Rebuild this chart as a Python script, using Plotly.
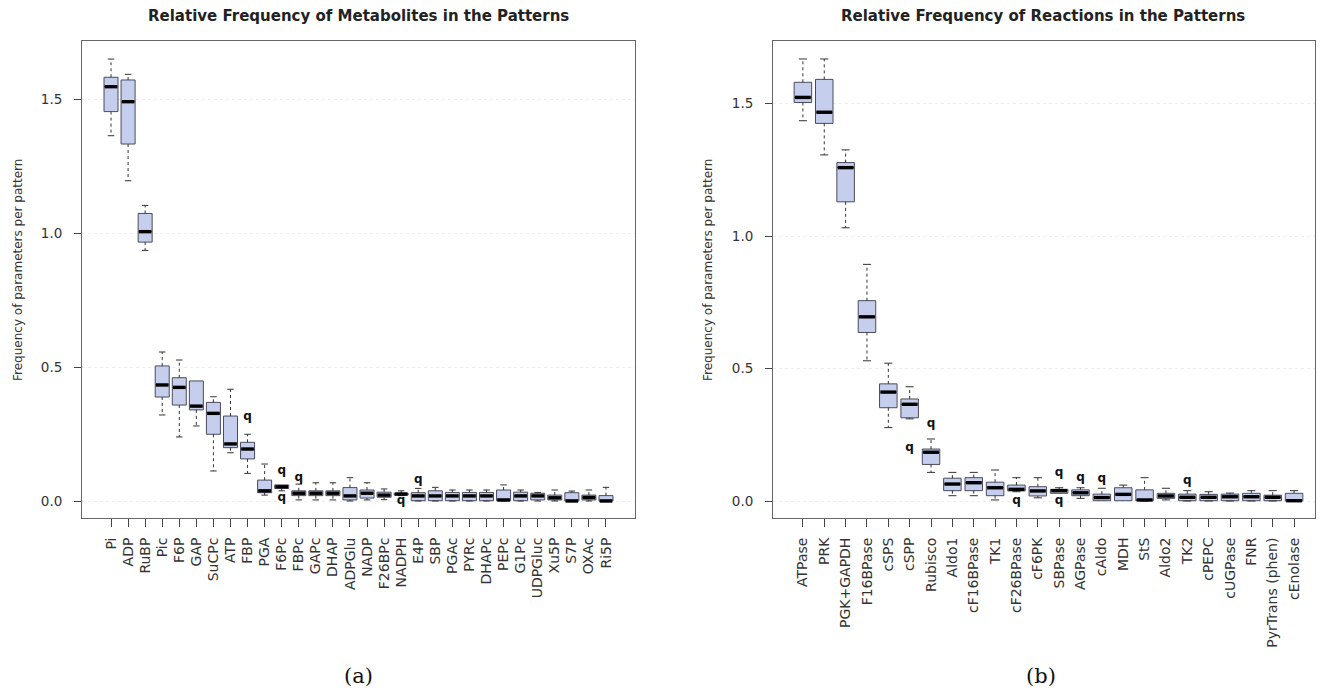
import plotly.graph_objects as go

# ---------------- data: metabolites (panel a) ----------------
met_names = ["Pi", "ADP", "RuBP", "Pic", "F6P", "GAP", "SuCPc", "ATP", "FBP", "PGA",
             "F6Pc", "FBPc", "GAPc", "DHAP", "ADPGlu", "NADP", "F26BPc", "NADPH", "E4P", "SBP",
             "PGAc", "PYRc", "DHAPc", "PEPc", "G1Pc", "UDPGluc", "Xu5P", "S7P", "OXAc", "Ri5P"]
met_lower = [1.363, 1.195, 0.935, 0.321, 0.239, 0.280, 0.112, 0.180, 0.103, 0.022,
             0.038, 0.004, 0.004, 0.004, 0.000, 0.004, 0.005, 0.020, 0.000, 0.000,
             0.000, 0.000, 0.000, 0.000, 0.000, 0.000, 0.000, 0.000, 0.000, 0.000]
met_q1 = [1.453, 1.332, 0.966, 0.388, 0.358, 0.340, 0.249, 0.199, 0.157, 0.031,
          0.047, 0.020, 0.020, 0.020, 0.004, 0.011, 0.014, 0.022, 0.001, 0.001,
          0.001, 0.001, 0.001, 0.001, 0.001, 0.004, 0.004, 0.000, 0.004, 0.000]
met_med = [1.546, 1.490, 1.005, 0.433, 0.424, 0.354, 0.327, 0.213, 0.194, 0.038,
           0.053, 0.029, 0.029, 0.029, 0.019, 0.029, 0.022, 0.026, 0.019, 0.019,
           0.019, 0.019, 0.019, 0.004, 0.019, 0.019, 0.012, 0.000, 0.013, 0.000]
met_q3 = [1.581, 1.571, 1.073, 0.504, 0.460, 0.448, 0.368, 0.317, 0.219, 0.078,
          0.060, 0.038, 0.038, 0.038, 0.050, 0.041, 0.033, 0.029, 0.031, 0.038,
          0.032, 0.032, 0.032, 0.041, 0.033, 0.029, 0.022, 0.031, 0.022, 0.020]
met_upper = [1.649, 1.592, 1.103, 0.556, 0.526, 0.448, 0.389, 0.417, 0.249, 0.138,
             0.060, 0.063, 0.068, 0.068, 0.087, 0.068, 0.045, 0.038, 0.047, 0.051,
             0.041, 0.041, 0.041, 0.060, 0.041, 0.032, 0.041, 0.037, 0.041, 0.051]
met_out_names = ["FBP", "F6Pc", "F6Pc", "FBPc", "NADPH", "E4P"]
met_out_vals = [0.313, 0.113, 0.011, 0.086, 0.000, 0.078]

# ---------------- data: reactions (panel b) ----------------
rxn_names = ["ATPase", "PRK", "PGK+GAPDH", "F16BPase", "cSPS", "cSPP", "Rubisco", "Aldo1",
             "cF16BPase", "TK1", "cF26BPase", "cF6PK", "SBPase", "AGPase", "cAldo", "MDH",
             "StS", "Aldo2", "TK2", "cPEPC", "cUGPase", "FNR", "PyrTrans (phen)", "cEnolase"]
rxn_lower = [1.435, 1.306, 1.031, 0.529, 0.277, 0.310, 0.108, 0.020, 0.020, 0.004, 0.035, 0.012,
             0.029, 0.010, 0.001, 0.001, 0.000, 0.004, 0.000, 0.000, 0.000, 0.000, 0.000, 0.000]
rxn_q1 = [1.504, 1.425, 1.129, 0.636, 0.352, 0.314, 0.138, 0.039, 0.039, 0.020, 0.038, 0.019,
          0.029, 0.020, 0.001, 0.001, 0.001, 0.010, 0.001, 0.001, 0.001, 0.001, 0.001, 0.000]
rxn_med = [1.523, 1.467, 1.258, 0.695, 0.411, 0.365, 0.184, 0.064, 0.069, 0.050, 0.044, 0.038,
           0.039, 0.031, 0.013, 0.025, 0.004, 0.019, 0.014, 0.014, 0.016, 0.016, 0.014, 0.001]
rxn_q3 = [1.580, 1.591, 1.277, 0.756, 0.442, 0.385, 0.196, 0.086, 0.088, 0.071, 0.060, 0.054,
          0.044, 0.042, 0.026, 0.050, 0.042, 0.029, 0.026, 0.025, 0.026, 0.029, 0.022, 0.029]
rxn_upper = [1.668, 1.668, 1.325, 0.893, 0.520, 0.431, 0.234, 0.108, 0.108, 0.117, 0.088, 0.088,
             0.050, 0.050, 0.048, 0.060, 0.088, 0.048, 0.039, 0.035, 0.030, 0.039, 0.039, 0.039]
rxn_out_names = ["cSPP", "Rubisco", "cF26BPase", "SBPase", "SBPase", "AGPase", "cAldo", "TK2"]
rxn_out_vals = [0.199, 0.290, 0.000, 0.105, 0.000, 0.086, 0.083, 0.075]

# ---------------- styling ----------------
BOX_FILL = "rgb(197,207,237)"
BOX_LINE = "#4a4a5e"
WHISK = "#333333"
BOX_W = 0.82
CAP_W = 0.38
FONT = "DejaVu Sans"
TXT = "#333333"

PAGE_W, PAGE_H = 1324, 699
OFF = 8  # default body margin of the html page
W, H = PAGE_W - 2 * OFF, PAGE_H - 2 * OFF


def fx(px):
    return (px - OFF) / W


def fy(py):
    return 1 - (py - OFF) / H


fig = go.Figure()


def add_panel(names, lower, q1, med, q3, upper, out_names, out_vals, xa, ya):
    idx = list(range(len(names)))
    pos = {n: i for i, n in enumerate(names)}
    wx, wy = [], []
    cx, cy = [], []
    for i in idx:
        if upper[i] > q3[i]:
            wx += [i, i, None]
            wy += [q3[i], upper[i], None]
            cx += [i - CAP_W / 2, i + CAP_W / 2, None]
            cy += [upper[i], upper[i], None]
        if lower[i] < q1[i]:
            wx += [i, i, None]
            wy += [q1[i], lower[i], None]
            cx += [i - CAP_W / 2, i + CAP_W / 2, None]
            cy += [lower[i], lower[i], None]
    fig.add_trace(go.Scatter(x=wx, y=wy, mode="lines", xaxis=xa, yaxis=ya,
                             line=dict(color=WHISK, width=1, dash="3px,3px"),
                             hoverinfo="skip", showlegend=False))
    fig.add_trace(go.Scatter(x=cx, y=cy, mode="lines", xaxis=xa, yaxis=ya,
                             line=dict(color=WHISK, width=1),
                             hoverinfo="skip", showlegend=False))
    fig.add_trace(go.Box(x=idx, q1=q1, median=med, q3=q3, lowerfence=q1, upperfence=q3,
                         width=BOX_W, fillcolor=BOX_FILL,
                         line=dict(color=BOX_LINE, width=1), whiskerwidth=0,
                         boxpoints=False, xaxis=xa, yaxis=ya,
                         hoverinfo="skip", showlegend=False))
    mx, my = [], []
    for i in idx:
        mx += [i - BOX_W / 2 + 0.04, i + BOX_W / 2 - 0.04, None]
        my += [med[i], med[i], None]
    fig.add_trace(go.Scatter(x=mx, y=my, mode="lines", xaxis=xa, yaxis=ya,
                             line=dict(color="black", width=3.4),
                             hoverinfo="skip", showlegend=False))
    fig.add_trace(go.Scatter(x=[pos[n] for n in out_names], y=out_vals, mode="text",
                             text=["<b>q</b>"] * len(out_vals), xaxis=xa, yaxis=ya,
                             textfont=dict(family=FONT, size=12, color="#111111"),
                             textposition="middle center",
                             hoverinfo="skip", showlegend=False))


add_panel(met_names, met_lower, met_q1, met_med, met_q3, met_upper,
          met_out_names, met_out_vals, "x", "y")
add_panel(rxn_names, rxn_lower, rxn_q1, rxn_med, rxn_q3, rxn_upper,
          rxn_out_names, rxn_out_vals, "x2", "y2")

# panel geometry (page pixels)
L_X0, L_X1 = 82, 635
R_X0, R_X1 = 773, 1315
Y_TOP, Y_BOT = 41, 518

met_range = [-1.70, len(met_names) - 1 + 1.70]
rxn_range = [-1.40, len(rxn_names) - 1 + 0.98]

grid_col = "rgba(0,0,0,0.07)"


def xaxis_main(domain, names, rng, anchor):
    return dict(domain=domain, range=rng, anchor=anchor,
                tickmode="array", tickvals=list(range(len(names))), ticktext=names,
                tickangle=-90, ticks="outside", ticklen=8, tickcolor="#444444",
                ticklabelstandoff=5,
                tickfont=dict(family=FONT, size=14, color=TXT),
                showline=True, linecolor="#666666", linewidth=1, mirror=True,
                showgrid=False, zeroline=False, fixedrange=True)


def xaxis_grid(domain, rng, anchor, over):
    return dict(domain=domain, range=rng, anchor=anchor, overlaying=over,
                tickmode="array", tickvals=list(range(-1, int(rng[1]) + 1, 5)),
                showticklabels=False, ticks="", showgrid=True, gridcolor=grid_col,
                griddash="dot", gridwidth=1, showline=False, zeroline=False)


def yaxis_main(rng, anchor):
    return dict(domain=[fy(Y_BOT), fy(Y_TOP)], range=rng, anchor=anchor,
                tickmode="array", tickvals=[0, 0.5, 1.0, 1.5],
                ticktext=["0.0", "0.5", "1.0", "1.5"],
                ticks="outside", ticklen=7, tickcolor="#444444", ticklabelstandoff=9,
                tickfont=dict(family=FONT, size=13.5, color=TXT),
                showline=True, linecolor="#666666", linewidth=1, mirror=True,
                showgrid=True, gridcolor=grid_col, griddash="dot", zeroline=False,
                fixedrange=True)


fig.update_layout(
    width=W, height=H,
    margin=dict(l=0, r=0, t=0, b=0),
    paper_bgcolor="white", plot_bgcolor="white",
    showlegend=False,
    xaxis=xaxis_main([fx(L_X0), fx(L_X1)], met_names, met_range, "y"),
    yaxis=yaxis_main([(501 - Y_BOT) / 268, (501 - Y_TOP) / 268], "x"),
    xaxis2=xaxis_main([fx(R_X0), fx(R_X1)], rxn_names, rxn_range, "y2"),
    yaxis2=yaxis_main([(501 - Y_BOT) / 265, (501 - Y_TOP) / 265], "x2"),
    xaxis3=xaxis_grid([fx(L_X0), fx(L_X1)], met_range, "y", "x"),
    xaxis4=xaxis_grid([fx(R_X0), fx(R_X1)], rxn_range, "y2", "x2"),
)

annotations = [
    dict(text="<b>Relative Frequency of Metabolites in the Patterns</b>", x=fx(358), y=fy(16),
         font=dict(family=FONT, size=15, color="#222222")),
    dict(text="<b>Relative Frequency of Reactions in the Patterns</b>", x=fx(1043), y=fy(16),
         font=dict(family=FONT, size=15, color="#222222")),
    dict(text="Frequency of parameters per pattern", x=fx(18), y=fy(270), textangle=-90,
         font=dict(family=FONT, size=12, color=TXT)),
    dict(text="Frequency of parameters per pattern", x=fx(708), y=fy(270), textangle=-90,
         font=dict(family=FONT, size=12, color=TXT)),
    dict(text="(a)", x=fx(358), y=fy(676),
         font=dict(family="DejaVu Serif", size=21, color="#111111")),
    dict(text="(b)", x=fx(1041), y=fy(676),
         font=dict(family="DejaVu Serif", size=21, color="#111111")),
]
for a in annotations:
    a.update(xref="paper", yref="paper", showarrow=False, xanchor="center", yanchor="middle")
fig.update_layout(annotations=annotations)

fig.write_html("out.html")
